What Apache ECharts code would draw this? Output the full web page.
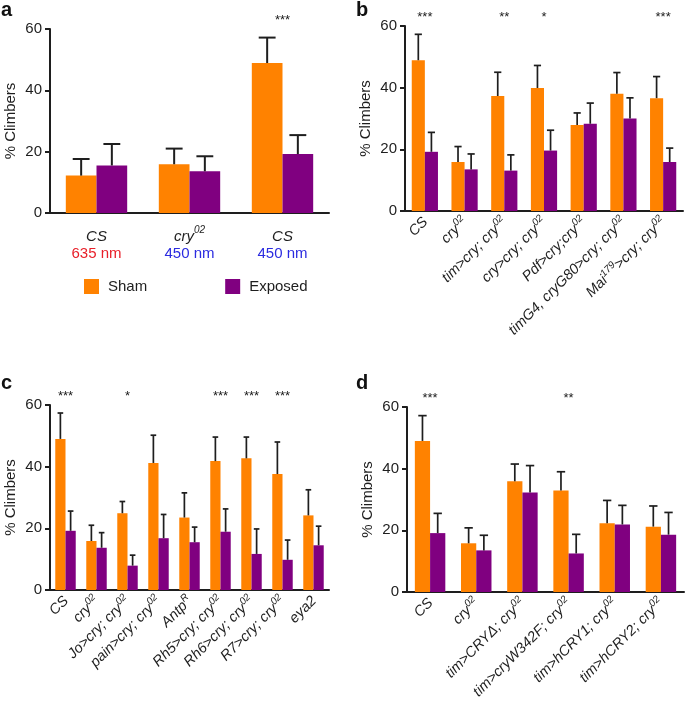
<!DOCTYPE html>
<html><head><meta charset="utf-8">
<script src="https://cdn.jsdelivr.net/npm/echarts@6/dist/echarts.min.js"></script>
<style>html,body{margin:0;padding:0;background:#fff}#c{width:685px;height:708px}</style>
</head><body><div id="c"></div>
<script>
// ---------- data ----------
const yMin = 0, yMax = 60, yStep = 20;
const seriesNames = ['Sham', 'Exposed'];

const aGenotypes = ['CS', 'cry^{02}', 'CS'];
const aWavelengths = ['635 nm', '450 nm', '450 nm'];
const aSham = [12.2, 15.9, 48.9];
const aShamErr = [5.4, 5.1, 8.3];
const aExposed = [15.5, 13.6, 19.2];
const aExposedErr = [7.0, 4.9, 6.2];
const aStars = ['', '', '***'];

const bCategories = ['CS', 'cry^{02}', 'tim>cry; cry^{02}', 'cry>cry; cry^{02}', 'Pdf>cry;cry^{02}', 'timG4, cryG80>cry; cry^{02}', 'Mai^{179}>cry; cry^{02}'];
const bSham = [48.9, 15.9, 37.3, 39.9, 27.9, 38.0, 36.6];
const bShamErr = [8.4, 5.0, 7.7, 7.3, 3.9, 6.9, 7.0];
const bExposed = [19.2, 13.5, 13.1, 19.6, 28.3, 30.0, 15.9];
const bExposedErr = [6.3, 5.0, 5.1, 6.6, 6.7, 6.7, 4.5];
const bStars = ['***', '', '**', '*', '', '', '***'];

const cCategories = ['CS', 'cry^{02}', 'Jo>cry; cry^{02}', 'pain>cry; cry^{02}', 'Antp^{R}', 'Rh5>cry; cry^{02}', 'Rh6>cry; cry^{02}', 'R7>cry; cry^{02}', 'eya2'];
const cSham = [49.0, 15.9, 24.9, 41.2, 23.5, 41.8, 42.7, 37.6, 24.2];
const cShamErr = [8.4, 5.1, 3.8, 9.0, 8.0, 7.8, 6.9, 10.4, 8.3];
const cExposed = [19.2, 13.7, 7.9, 16.8, 15.5, 18.9, 11.7, 9.8, 14.5];
const cExposedErr = [6.4, 4.9, 3.4, 7.7, 4.9, 7.4, 8.1, 6.4, 6.2];
const cStars = ['***', '', '*', '', '', '***', '***', '***', ''];

const dCategories = ['CS', 'cry^{02}', 'tim>CRYΔ; cry^{02}', 'tim>cryW342F; cry^{02}', 'tim>hCRY1; cry^{02}', 'tim>hCRY2; cry^{02}'];
const dSham = [49.0, 15.8, 35.9, 32.9, 22.3, 21.2];
const dShamErr = [8.2, 5.0, 5.6, 6.1, 7.4, 6.7];
const dExposed = [19.1, 13.5, 32.3, 12.5, 21.9, 18.6];
const dExposedErr = [6.4, 4.9, 8.7, 6.2, 6.2, 7.2];
const dStars = ['***', '', '', '**', '', ''];

// ---------- styling ----------
const ORANGE = '#FF8200', PURPLE = '#800080', INK = '#1e1e1e';
const FONT = '"Liberation Sans", Arial, sans-serif';
const GAP = 0.34;

function toRich(s, base, sup) {
  return s.split(/\^\{([^}]*)\}/).map((p, i) => p === '' ? '' : (i % 2 ? `{${sup}|${p}}` : `{${base}|${p}}`)).join('');
}
const richBase = {
  g: { fontSize: 14.5, fontStyle: 'italic', color: INK, fontFamily: FONT, lineHeight: 17, verticalAlign: 'bottom' },
  s: { fontSize: 10, fontStyle: 'italic', color: INK, fontFamily: FONT, lineHeight: 17, verticalAlign: 'top' }
};

const panels = [
  { key: 'a', grid: { left: 50, top: 29, width: 279, height: 184 }, cats: aGenotypes, sham: aSham, shamErr: aShamErr, exp: aExposed, expErr: aExposedErr, stars: aStars, lw: 2 },
  { key: 'b', grid: { left: 405, top: 26, width: 278, height: 185 }, cats: bCategories, sham: bSham, shamErr: bShamErr, exp: bExposed, expErr: bExposedErr, stars: bStars, lw: 1.7 },
  { key: 'c', grid: { left: 50, top: 405, width: 279, height: 185 }, cats: cCategories, sham: cSham, shamErr: cShamErr, exp: cExposed, expErr: cExposedErr, stars: cStars, lw: 1.7 },
  { key: 'd', grid: { left: 407, top: 407, width: 277, height: 185 }, cats: dCategories, sham: dSham, shamErr: dShamErr, exp: dExposed, expErr: dExposedErr, stars: dStars, lw: 1.7 }
];

function errRender(side, lw) {
  return function (params, api) {
    const idx = api.value(0), m = api.value(1), e = api.value(2);
    const band = api.size([1, 0])[0];
    const bw = band * (1 - GAP) / 2;
    const x = api.coord([idx, 0])[0] + side * bw / 2;
    const y1 = api.coord([idx, m])[1], y2 = api.coord([idx, m + e])[1];
    const cap = bw * 0.55;
    return { type: 'group', children: [
      { type: 'line', shape: { x1: x, y1: y1, x2: x, y2: y2 }, style: { stroke: INK, lineWidth: lw } },
      { type: 'line', shape: { x1: x - cap / 2, y1: y2, x2: x + cap / 2, y2: y2 }, style: { stroke: INK, lineWidth: lw } }
    ]};
  };
}
function starRender(stars) {
  return function (params, api) {
    const idx = api.value(0);
    if (!stars[idx]) return null;
    const x = api.coord([idx, 0])[0];
    const y = params.coordSys.y - 9;
    return { type: 'text', style: { text: stars[idx], x: x, y: y, align: 'center', verticalAlign: 'middle', fontSize: 13, fontFamily: FONT, fill: '#1a1a1a' } };
  };
}

const grids = [], xAxes = [], yAxes = [], series = [];
panels.forEach((p, gi) => {
  grids.push(Object.assign({ outerBoundsMode: 'none', containLabel: false }, p.grid));
  const isA = p.key === 'a';
  xAxes.push({
    type: 'category', gridIndex: gi, data: p.cats.map((c, i) => i),
    axisLine: { lineStyle: { color: INK, width: 2 } },
    axisTick: { alignWithLabel: true, length: 5, lineStyle: { color: INK, width: 2 } },
    axisLabel: isA ? {
      interval: 0, margin: 12,
      formatter: (v, i) => toRich(aGenotypes[i], 'g', 's') + '\n' + `{${aWavelengths[i].startsWith('635') ? 'r' : 'bl'}|${aWavelengths[i]}}`,
      rich: Object.assign({}, richBase, {
        g: Object.assign({}, richBase.g, { fontSize: 15, lineHeight: 19 }),
        s: Object.assign({}, richBase.s, { fontSize: 10, lineHeight: 19 }),
        r: { fontSize: 15, color: '#E8202A', fontFamily: FONT, lineHeight: 19 },
        bl: { fontSize: 15, color: '#2B2BE0', fontFamily: FONT, lineHeight: 19 }
      })
    } : {
      interval: 0, rotate: 45, margin: 8,
      formatter: (v, i) => toRich(p.cats[i], 'g', 's'),
      rich: richBase
    }
  });
  yAxes.push({
    type: 'value', gridIndex: gi, min: yMin, max: yMax, interval: yStep,
    name: '% Climbers', nameLocation: 'middle', nameGap: 32,
    nameTextStyle: { fontSize: 15, color: INK, fontFamily: FONT },
    axisLine: { show: true, lineStyle: { color: INK, width: 2 } },
    axisTick: { show: true, length: 5, lineStyle: { color: INK, width: 2 } },
    axisLabel: { fontSize: 15, color: INK, fontFamily: FONT, margin: 8 },
    splitLine: { show: false }
  });
  series.push({ name: 'Sham', type: 'bar', xAxisIndex: gi, yAxisIndex: gi, data: p.sham, barGap: 0, barCategoryGap: (GAP * 100) + '%', itemStyle: { color: ORANGE }, z: 2 });
  series.push({ name: 'Exposed', type: 'bar', xAxisIndex: gi, yAxisIndex: gi, data: p.exp, barGap: 0, barCategoryGap: (GAP * 100) + '%', itemStyle: { color: PURPLE }, z: 2 });
  series.push({ type: 'custom', xAxisIndex: gi, yAxisIndex: gi, renderItem: errRender(-1, p.lw), data: p.sham.map((m, i) => [i, m, p.shamErr[i]]), z: 3, silent: true });
  series.push({ type: 'custom', xAxisIndex: gi, yAxisIndex: gi, renderItem: errRender(1, p.lw), data: p.exp.map((m, i) => [i, m, p.expErr[i]]), z: 3, silent: true });
  series.push({ type: 'custom', xAxisIndex: gi, yAxisIndex: gi, renderItem: starRender(p.stars), data: p.stars.map((s, i) => [i, 0]), z: 4, silent: true, clip: false });
});

const chart = echarts.init(document.getElementById('c'), null, { renderer: 'canvas' });
chart.setOption({
  animation: false,
  backgroundColor: '#fff',
  textStyle: { fontFamily: FONT },
  grid: grids, xAxis: xAxes, yAxis: yAxes, series: series,
  legend: {
    data: seriesNames, left: 79, top: 274, itemWidth: 15, itemHeight: 15, itemGap: 78, icon: 'rect',
    textStyle: { fontSize: 15, color: INK, fontFamily: FONT, padding: [0, 0, 0, 4] }
  },
  graphic: [
    { type: 'text', left: 1, top: 0, style: { text: 'a', fontSize: 20, fontWeight: 'bold', fill: '#111', fontFamily: FONT } },
    { type: 'text', left: 356, top: 0, style: { text: 'b', fontSize: 20, fontWeight: 'bold', fill: '#111', fontFamily: FONT } },
    { type: 'text', left: 1, top: 373, style: { text: 'c', fontSize: 20, fontWeight: 'bold', fill: '#111', fontFamily: FONT } },
    { type: 'text', left: 356, top: 373, style: { text: 'd', fontSize: 20, fontWeight: 'bold', fill: '#111', fontFamily: FONT } }
  ]
});
</script>
</body></html>
